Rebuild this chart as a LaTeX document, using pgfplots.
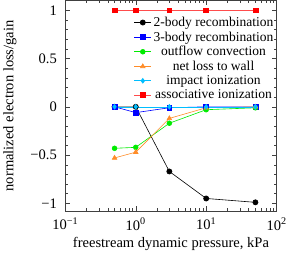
\documentclass[border=0pt]{standalone}
\usepackage{pgfplots}
\pgfplotsset{compat=1.18}
\usepackage{fontspec}
\setmainfont{Liberation Serif}
\definecolor{cgreen}{RGB}{0,235,0}
\definecolor{corange}{RGB}{255,140,40}
\definecolor{ccyan}{RGB}{0,190,255}
\begin{document}
\begin{tikzpicture}
\begin{axis}[
  scale only axis,
  width=211pt, height=211pt,
  xmode=log,
  xmin=0.1, xmax=100,
  ymin=-1.085, ymax=1.105,
  xtick={0.1,1,10,100},
  xticklabels={10\textsuperscript{−1},10\textsuperscript{0},10\textsuperscript{1},10\textsuperscript{2}},
  ytick={-1,-0.5,0,0.5,1},
  yticklabels={−1,−0.5,0,0.5,1},
  minor ytick={-1.1,-1.0,...,1.1},
  tick align=inside,
  axis line style={black!75},
  every tick/.style={black!75},
  major tick length=5pt, minor tick length=3pt,
  font=\fontsize{14.5}{16}\selectfont,
  yticklabel style={xshift=-5pt},
  xticklabel style={yshift=-3pt},
  xlabel={freestream dynamic pressure, kPa},
  ylabel={normalized electron loss/gain},
  ylabel style={yshift=7pt},
  legend style={draw=none, fill=none, at={(1,0.94)}, anchor=north east, font=\fontsize{13.5}{14}\selectfont, row sep=-0.3pt, inner xsep=1pt},
  legend cell align=center,
  every axis plot/.append style={line width=0.6pt},
]
\addplot[black, mark=*, mark size=2.6pt] coordinates {(0.5,0) (1,0) (3,-0.67) (10,-0.95) (50,-0.99)};
\addlegendentry{2-body recombination}
\addplot[blue, mark=square*, mark size=2.4pt] coordinates {(0.5,0) (1,-0.06) (3,-0.01) (10,0) (50,0)};
\addlegendentry{3-body recombination}
\addplot[cgreen, mark=*, mark size=2.4pt] coordinates {(0.5,-0.43) (1,-0.42) (3,-0.17) (10,-0.03) (50,-0.01)};
\addlegendentry{outflow convection}
\addplot[corange, mark=triangle*, mark size=2.6pt] coordinates {(0.5,-0.53) (1,-0.47) (3,-0.12) (10,-0.01) (50,0)};
\addlegendentry{net loss to wall}
\addplot[ccyan, mark=diamond*, mark size=2.4pt] coordinates {(0.5,0) (1,0) (3,0) (10,0) (50,0)};
\addlegendentry{impact ionization}
\addplot[red!70, mark=square*, mark options={red}, mark size=2.4pt] coordinates {(0.5,1) (1,1) (3,1) (10,1) (50,1)};
\addlegendentry{associative ionization}
\end{axis}
\end{tikzpicture}
\end{document}
